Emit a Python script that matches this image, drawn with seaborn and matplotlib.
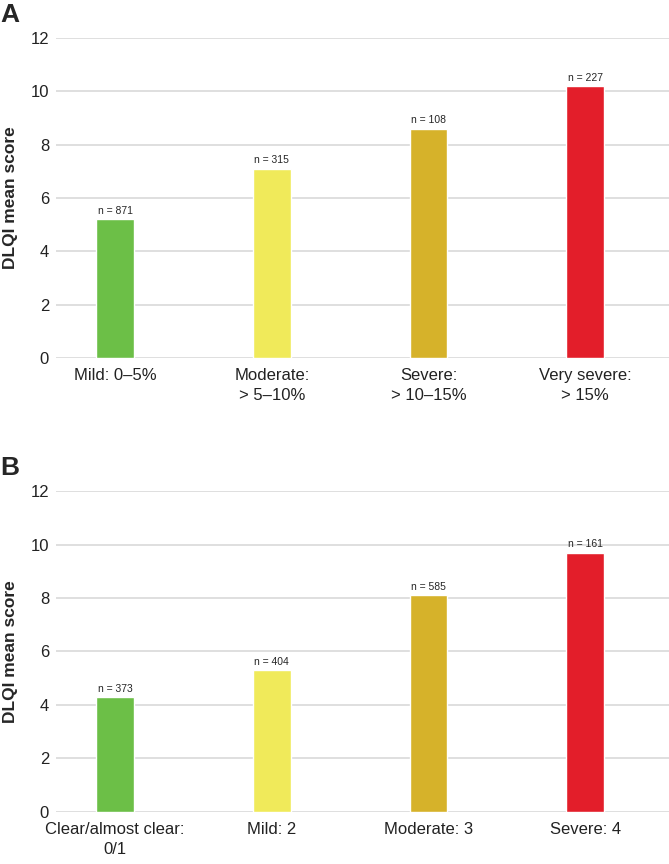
import pandas as pd
import numpy as np
import matplotlib.pyplot as plt
import seaborn as sns

# Datos panel A (BSA)
cats_a = ["Mild: 0–5%", "Moderate:\n> 5–10%", "Severe:\n> 10–15%", "Very severe:\n> 15%"]
vals_a = [5.2, 7.1, 8.6, 10.2]
n_a = [871, 315, 108, 227]

# Datos panel B (IGA)
cats_b = ["Clear/almost clear:\n0/1", "Mild: 2", "Moderate: 3", "Severe: 4"]
vals_b = [4.3, 5.3, 8.1, 9.7]
n_b = [373, 404, 585, 161]

colores = ["#6cbf47", "#f0ea5a", "#d6b22a", "#e31e2a"]

sns.set_style("white")
plt.rcParams["font.family"] = ["Liberation Sans", "DejaVu Sans"]

fig = plt.figure(figsize=(6.69, 8.64), dpi=100)
ax_a = fig.add_axes([0.0837, 0.5856, 0.9163, 0.3704])
ax_b = fig.add_axes([0.0837, 0.0602, 0.9163, 0.3715])


def dibuja_panel(ax, cats, vals, ns, letra):
    df = pd.DataFrame({"cat": cats, "val": vals})
    sns.barplot(data=df, x="cat", y="val", hue="cat", palette=colores,
                dodge=False, legend=False, width=0.24, ax=ax, saturation=1)
    for i, (v, n) in enumerate(zip(vals, ns)):
        ax.text(i, v + 0.12, f"n = {n}", ha="center", va="bottom", fontsize=7.5)
    ax.set_ylim(0, 12)
    ax.set_xlim(-0.377, 3.535)
    ax.set_yticks(range(0, 13, 2))
    ax.grid(axis="y", color="#d9d9d9", linewidth=1.2)
    ax.set_axisbelow(True)
    sns.despine(ax=ax, left=True, bottom=True)
    ax.tick_params(axis="both", length=0, labelsize=12, colors="#222222")
    ax.tick_params(axis="y", pad=5)
    ax.tick_params(axis="x", pad=7)
    for lbl in ax.get_xticklabels():
        lbl.set_linespacing(1.45)
    ax.set_xlabel("")
    ax.set_ylabel("DLQI mean score", fontsize=12.5, fontweight="bold")
    ax.yaxis.set_label_coords(-0.062, 0.5)
    ax.text(-0.091, 1.035, letra, transform=ax.transAxes, fontsize=19,
            fontweight="bold", ha="left", va="bottom")


dibuja_panel(ax_a, cats_a, vals_a, n_a, "A")
dibuja_panel(ax_b, cats_b, vals_b, n_b, "B")

fig.savefig("out.png", dpi=100)
